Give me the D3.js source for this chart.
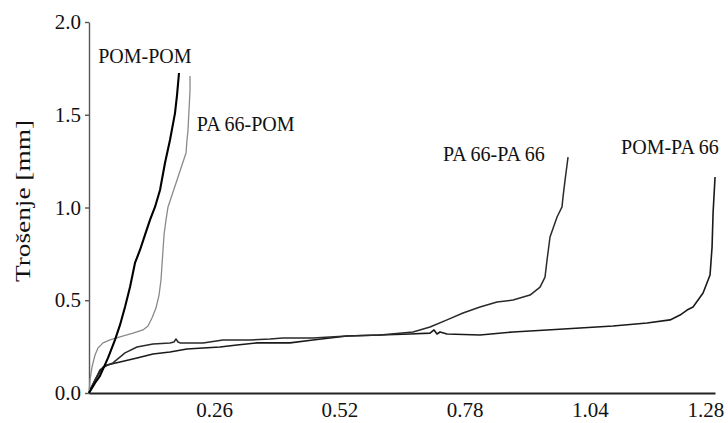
<!DOCTYPE html>
<html>
<head>
<meta charset="utf-8">
<script src="https://cdn.jsdelivr.net/npm/d3@7"></script>
<style>
  html, body { margin: 0; padding: 0; background: #fff; }
  svg { display: block; }
  text { font-family: "Liberation Serif", "Times New Roman", serif; fill: #111; }
</style>
</head>
<body>
<svg id="chart" width="728" height="423"></svg>
<script>
// Wear depth [mm] versus sliding distance, one series per material pair: [x, y]
const pomPom = [
  [0, 0], [0.0125, 0.054], [0.0228, 0.092], [0.0395, 0.189], [0.054, 0.286],
  [0.0644, 0.367], [0.0748, 0.464], [0.0852, 0.571], [0.0955, 0.701], [0.1059, 0.771],
  [0.1163, 0.852], [0.1267, 0.933], [0.1371, 1.003], [0.1475, 1.094], [0.1578, 1.240],
  [0.1682, 1.364], [0.1786, 1.509], [0.1828, 1.606], [0.1869, 1.725]
];
const pa66Pom = [
  [0, 0], [0.0021, 0.070], [0.0062, 0.140], [0.0125, 0.205], [0.0187, 0.243],
  [0.0291, 0.270], [0.0436, 0.286], [0.0644, 0.302], [0.0914, 0.323], [0.1121, 0.340],
  [0.1225, 0.361], [0.1308, 0.404], [0.1391, 0.458], [0.1454, 0.528], [0.1495, 0.609],
  [0.1516, 0.690], [0.1537, 0.771], [0.1558, 0.852], [0.1599, 0.933], [0.1641, 1.003],
  [0.1724, 1.067], [0.1828, 1.148], [0.1931, 1.229], [0.2015, 1.294], [0.2035, 1.364],
  [0.2056, 1.418], [0.2077, 1.526], [0.2098, 1.633], [0.2098, 1.709]
];
const pa66Pa66 = [
  [0, 0], [0.0021, 0.016], [0.0125, 0.070], [0.0228, 0.113], [0.0291, 0.140],
  [0.0498, 0.162], [0.0748, 0.216], [0.0997, 0.248], [0.1329, 0.264], [0.1682, 0.270],
  [0.1765, 0.275], [0.1807, 0.291], [0.1848, 0.275], [0.1890, 0.270], [0.2368, 0.270],
  [0.2783, 0.286], [0.3344, 0.286], [0.3759, 0.291], [0.4029, 0.296], [0.4652, 0.296],
  [0.5358, 0.307], [0.6044, 0.313], [0.6729, 0.329], [0.7082, 0.356], [0.7435, 0.394],
  [0.7767, 0.431], [0.8120, 0.464], [0.8474, 0.491], [0.8806, 0.501], [0.9159, 0.528],
  [0.9367, 0.571], [0.9470, 0.625], [0.9512, 0.717], [0.9574, 0.841], [0.9720, 0.949],
  [0.9823, 1.003], [0.9844, 1.057], [0.9886, 1.148], [0.9927, 1.229], [0.9948, 1.272]
];
const pomPa66 = [
  [0, 0], [0.0021, 0.016], [0.0228, 0.124], [0.0374, 0.151], [0.0644, 0.167],
  [0.0997, 0.189], [0.1329, 0.210], [0.1682, 0.221], [0.2035, 0.237], [0.2368, 0.243],
  [0.2721, 0.248], [0.3074, 0.259], [0.3489, 0.270], [0.4174, 0.270], [0.4652, 0.286],
  [0.5358, 0.307], [0.6044, 0.313], [0.6667, 0.318], [0.7082, 0.323], [0.7165, 0.340],
  [0.7227, 0.318], [0.7290, 0.329], [0.7435, 0.318], [0.8120, 0.313], [0.8806, 0.329],
  [0.9512, 0.340], [1.0197, 0.350], [1.0883, 0.361], [1.1589, 0.377], [1.2067, 0.394],
  [1.2274, 0.420], [1.2420, 0.447], [1.2544, 0.464], [1.2752, 0.539], [1.2897, 0.636],
  [1.2939, 0.787], [1.2960, 0.970], [1.3001, 1.164]
];

const xTicks = [0.26, 0.52, 0.78, 1.04, 1.28];
const yTicks = [0, 0.5, 1.0, 1.5, 2.0];
const seriesNames = ["POM-POM", "PA 66-POM", "PA 66-PA 66", "POM-PA 66"];
const yTitle = "Trošenje [mm]";

const svg = d3.select("#chart");

const x = d3.scaleLinear().domain([0, 1.30]).range([89, 715]);
const y = d3.scaleLinear().domain([0, 2.0]).range([393, 22]);

// Axes
const xAxis = svg.append("g")
  .attr("transform", `translate(0,${y(0)})`)
  .call(d3.axisBottom(x).tickValues(xTicks).tickSize(0).tickPadding(9)
    .tickFormat(d3.format(".2f")));
xAxis.select(".domain").attr("stroke", "#222").attr("stroke-width", 1.8);
xAxis.selectAll("text").attr("font-size", 21).attr("fill", "#111");

const yAxis = svg.append("g")
  .attr("transform", `translate(${x(0)},0)`)
  .call(d3.axisLeft(y).tickValues(yTicks).tickSize(4).tickSizeOuter(0).tickPadding(4)
    .tickFormat(d3.format(".1f")));
yAxis.select(".domain").attr("stroke", "#555").attr("stroke-width", 1.4);
yAxis.selectAll(".tick line").attr("stroke", "#555").attr("stroke-width", 1.4);
yAxis.selectAll("text").attr("font-size", 21).attr("fill", "#111");

// Y axis title
svg.append("text")
  .attr("transform", `translate(30,201) rotate(-90)`)
  .attr("text-anchor", "middle")
  .attr("font-size", 22)
  .attr("textLength", 162)
  .attr("lengthAdjust", "spacingAndGlyphs")
  .text(yTitle);

// Curves
const line = d3.line().x(d => x(d[0])).y(d => y(d[1])).curve(d3.curveLinear);
const curves = [
  { data: pomPa66, stroke: "#1a1a1a", width: 1.6 },
  { data: pa66Pa66, stroke: "#2a2a2a", width: 1.5 },
  { data: pa66Pom, stroke: "#8a8a8a", width: 1.3 },
  { data: pomPom, stroke: "#000", width: 2.1 }
];
svg.append("g").selectAll("path").data(curves).join("path")
  .attr("d", d => line(d.data))
  .attr("fill", "none")
  .attr("stroke", d => d.stroke)
  .attr("stroke-width", d => d.width)
  .attr("stroke-linejoin", "round");

// Series labels near the end of each curve
const labels = [
  { text: seriesNames[0], x: 0.019, y: 1.78 },
  { text: seriesNames[1], x: 0.224, y: 1.415 },
  { text: seriesNames[2], x: 0.735, y: 1.25 },
  { text: seriesNames[3], x: 1.105, y: 1.29 }
];
svg.append("g").selectAll("text").data(labels).join("text")
  .attr("x", d => x(d.x))
  .attr("y", d => y(d.y))
  .attr("font-size", 20)
  .text(d => d.text);
</script>
</body>
</html>
